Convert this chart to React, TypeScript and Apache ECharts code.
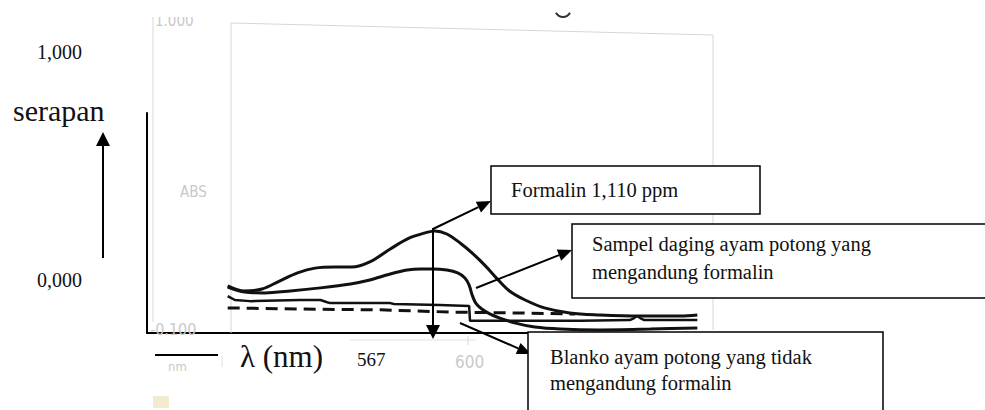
import React, { useEffect, useRef } from "react";
import * as echarts from "echarts";

// Wavelength (nm) / absorbance readings for each trace
const formalinNm = [397, 411, 425.5, 440, 455, 469.5, 486, 500, 515, 532, 548, 561, 569, 579, 590, 601, 611, 621, 631, 644, 660, 681, 706, 739, 773, 787];
const formalinAbs = [0.057, 0.039, 0.046, 0.074, 0.103, 0.12, 0.124, 0.124, 0.142, 0.188, 0.227, 0.245, 0.252, 0.241, 0.209, 0.17, 0.128, 0.081, 0.039, 0.007, -0.021, -0.039, -0.046, -0.05, -0.05, -0.046];

const sampelNm = [397, 411, 428, 449, 474, 499, 515, 532, 546, 557, 567.5, 579, 588, 594, 597.5, 600, 603, 608, 615, 623, 636, 652, 673, 706, 748, 787];
const sampelAbs = [0.053, 0.035, 0.032, 0.039, 0.05, 0.064, 0.078, 0.099, 0.113, 0.117, 0.117, 0.113, 0.103, 0.085, 0.06, 0.025, -0.004, -0.025, -0.043, -0.057, -0.075, -0.089, -0.096, -0.099, -0.096, -0.092];

const blankoNm = [397, 403, 415.5, 457, 474, 479, 482, 532, 535, 573, 597.5, 598.2, 606.5, 640, 690, 731, 734.5, 737, 739.5, 743, 787];
const blankoAbs = [0.021, 0.007, 0.003, 0.007, 0.007, 0.0, -0.004, -0.004, -0.007, -0.011, -0.014, -0.067, -0.067, -0.067, -0.067, -0.064, -0.057, -0.05, -0.057, -0.064, -0.064];

const dashedNm = [397, 457, 523.5, 584, 640, 685.5];
const dashedAbs = [-0.021, -0.025, -0.028, -0.036, -0.039, -0.043];

const labelFormalin = "Formalin 1,110 ppm";
const labelSampel = ["Sampel daging ayam potong yang", "mengandung formalin"];
const labelBlanko = ["Blanko ayam potong yang tidak", "mengandung formalin"];

const zip = (xs: number[], ys: number[]) => xs.map((x, i) => [x, ys[i]]);

const SERIF = "'Liberation Serif', 'Times New Roman', serif";
const NARROW = "'Liberation Sans Narrow', 'DejaVu Sans Condensed', sans-serif";

function arrow(x1: number, y1: number, x2: number, y2: number, len = 14, half = 6, w = 2, z = 20) {
  const dx = x2 - x1, dy = y2 - y1;
  const L = Math.hypot(dx, dy);
  const ux = dx / L, uy = dy / L;
  const bx = x2 - ux * len, by = y2 - uy * len;
  const px = -uy, py = ux;
  return [
    { type: "line", z, shape: { x1, y1, x2: bx, y2: by }, style: { stroke: "#000", lineWidth: w } },
    {
      type: "polygon", z,
      shape: { points: [[x2, y2], [bx + px * half, by + py * half], [bx - px * half, by - py * half]] },
      style: { fill: "#000" },
    },
  ];
}

function txt(text: string, x: number, y: number, size: number, color = "#111", family = SERIF, z = 30) {
  return {
    type: "text", z, x, y,
    style: { text, fill: color, font: `${size}px ${family}`, textVerticalAlign: "middle", verticalAlign: "middle" },
  };
}

export default function App() {
  const ref = useRef<HTMLDivElement>(null);
  useEffect(() => {
    if (!ref.current) return;
    const chart = echarts.init(ref.current, null, { renderer: "svg" });
    const grey = "#c9c9c9";
    const graphics: any[] = [
      // faint scanned frame
      { type: "polyline", z: 1, shape: { points: [[231, 333], [231, 23], [713, 35], [713, 330]] }, style: { stroke: "#d6d6d6", lineWidth: 1, fill: null } },
      { type: "line", z: 1, shape: { x1: 153, y1: 17, x2: 153, y2: 322 }, style: { stroke: "#ececec", lineWidth: 2 } },
      { type: "line", z: 1, shape: { x1: 350, y1: 340, x2: 476, y2: 340 }, style: { stroke: "#e2e2e2", lineWidth: 1 } },
      { type: "line", z: 1, shape: { x1: 468, y1: 336, x2: 468, y2: 345 }, style: { stroke: "#d8d8d8", lineWidth: 1 } },
      { type: "line", z: 1, shape: { x1: 222, y1: 356, x2: 222, y2: 367 }, style: { stroke: "#e0e0e0", lineWidth: 1 } },
      txt("1.000", 155, 21, 15, grey, NARROW, 1),
      { type: "rect", z: 2, shape: { x: 150, y: 0, width: 60, height: 17 }, style: { fill: "#fff" } },
      txt("ABS", 180, 192, 15, grey, NARROW, 1),
      txt("-0.100", 150, 329, 16, grey, NARROW, 1),
      txt("nm", 168, 366, 13, grey, NARROW, 1),
      txt("600", 455, 362, 17, grey, NARROW, 1),
      { type: "rect", z: 1, shape: { x: 153, y: 396, width: 16, height: 12 }, style: { fill: "#f2ebcf" } },
      { type: "arc", z: 1, shape: { cx: 563, cy: 9, r: 8, startAngle: 0.5, endAngle: Math.PI - 0.5, clockwise: true }, style: { stroke: "#333", lineWidth: 2, fill: null } },

      // annotation axes
      { type: "line", z: 20, shape: { x1: 155, y1: 355, x2: 218, y2: 355 }, style: { stroke: "#000", lineWidth: 2 } },
      ...arrow(103, 258, 103, 132, 14, 7, 2),
      txt("1,000", 37, 52, 20),
      txt("serapan", 13, 110, 30),
      txt("0,000", 37, 280, 20),
      txt("λ (nm)", 240, 356, 31),
      txt("567", 357, 359, 19),

      // arrows
      ...arrow(433, 228, 433, 339, 14, 7, 2),
      ...arrow(433, 229, 491, 201, 14, 6, 2),
      ...arrow(476, 288, 572, 250, 14, 6, 2),
      ...arrow(460, 323, 531, 354, 14, 6, 2),

      // boxes
      { type: "rect", z: 25, shape: { x: 491, y: 166, width: 269, height: 48 }, style: { fill: "#fff", stroke: "#000", lineWidth: 1.5 } },
      txt(labelFormalin, 511, 190, 20.5),
      { type: "rect", z: 25, shape: { x: 572, y: 224, width: 430, height: 74 }, style: { fill: "#fff", stroke: "#000", lineWidth: 1.5 } },
      txt(labelSampel[0], 592, 244, 20.5),
      txt(labelSampel[1], 592, 272, 20.5),
      { type: "rect", z: 25, shape: { x: 528, y: 332, width: 355, height: 100 }, style: { fill: "#fff", stroke: "#000", lineWidth: 1.5 } },
      txt(labelBlanko[0], 550, 357, 20.5),
      txt(labelBlanko[1], 550, 383, 20.5),
    ];

    chart.setOption({
      animation: false,
      backgroundColor: "#fff",
      grid: { left: 147, top: 113, width: 566, height: 220 },
      xAxis: {
        type: "value", min: 330, max: 800,
        axisLine: { show: true, onZero: false, lineStyle: { color: "#000", width: 2 } },
        axisTick: { show: false }, axisLabel: { show: false }, splitLine: { show: false },
      },
      yAxis: {
        type: "value", min: -0.11, max: 0.67,
        axisLine: { show: true, onZero: false, lineStyle: { color: "#000", width: 2 } },
        axisTick: { show: false }, axisLabel: { show: false }, splitLine: { show: false },
      },
      series: [
        { name: "Formalin", type: "line", data: zip(formalinNm, formalinAbs), smooth: 0.35, showSymbol: false, lineStyle: { color: "#111", width: 3 }, z: 5 },
        { name: "Sampel", type: "line", data: zip(sampelNm, sampelAbs), smooth: 0.3, showSymbol: false, lineStyle: { color: "#111", width: 3 }, z: 5 },
        { name: "Blanko", type: "line", data: zip(blankoNm, blankoAbs), smooth: false, showSymbol: false, lineStyle: { color: "#111", width: 2.5 }, z: 5 },
        { name: "Blanko dashed", type: "line", data: zip(dashedNm, dashedAbs), smooth: false, showSymbol: false, lineStyle: { color: "#111", width: 3, type: [12, 7] }, z: 5 },
      ],
      graphic: graphics,
    });
    return () => chart.dispose();
  }, []);
  return <div ref={ref} style={{ position: "absolute", left: 0, top: 0, width: 985, height: 410 }} />;
}
